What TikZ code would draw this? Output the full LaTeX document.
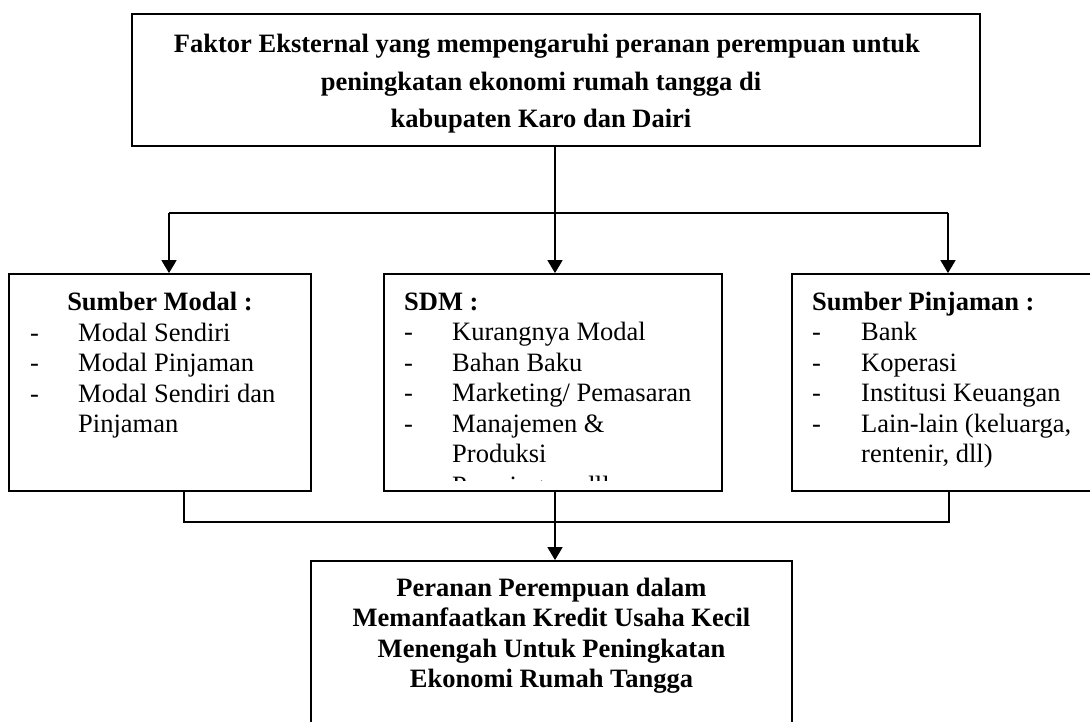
\documentclass[tikz,border=0pt]{standalone}
\usepackage{fontspec}
\setmainfont{Liberation Serif}
\usetikzlibrary{arrows.meta}
\begin{document}
\begin{tikzpicture}[x=1pt,y=-1pt,
  frame/.style={draw=black, line width=1.8pt, rectangle, inner sep=0pt},
  conn/.style={draw=black, line width=1.7pt},
  arr/.style={conn, -{Triangle[length=13pt,width=15pt]}},
  txt/.style={font=\fontsize{26.5}{30.5}\selectfont, anchor=base west, inner sep=0pt},
  btxt/.style={font=\fontsize{26.5}{30.5}\selectfont\bfseries, anchor=base west, inner sep=0pt},
  ctxt/.style={font=\fontsize{26.5}{30.5}\selectfont\bfseries, anchor=base, inner sep=0pt}
]
\useasboundingbox (0,0) rectangle (1090,722);
\clip (0,0) rectangle (1090,722);

% boxes
\node[frame, minimum width=848pt, minimum height=132pt] (top) at (556,80) {};
\node[frame, minimum width=302pt, minimum height=217pt] (left) at (160,382.5) {};
\node[frame, minimum width=338pt, minimum height=217pt] (mid) at (553,382.5) {};
\node[frame, minimum width=308pt, minimum height=217pt] (right) at (946,382.5) {};
\node[frame, minimum width=481pt, minimum height=175pt] (bot) at (551.5,648.5) {};

% top text
\node[ctxt] (t1) at (547,53) {Faktor Eksternal yang mempengaruhi peranan perempuan untuk};
\node[ctxt] (t2) at (541,90.5) {peningkatan ekonomi rumah tangga di};
\node[ctxt] (t3) at (541,128) {kabupaten Karo dan Dairi};

% left box text
\node[ctxt] (lh) at (160,310) {Sumber Modal :};
\node[txt] (ld1) at (30,341) {-};
\node[txt] (li1) at (78,341) {Modal Sendiri};
\node[txt] (ld2) at (30,371.5) {-};
\node[txt] (li2) at (78,371.5) {Modal Pinjaman};
\node[txt] (ld3) at (30,402) {-};
\node[txt] (li3) at (78,402) {Modal Sendiri dan};
\node[txt] (li4) at (78,432.5) {Pinjaman};

% middle box text
\begin{scope}
\clip (384,274) rectangle (722,480);
\node[btxt] (mh) at (404,310) {SDM :};
\node[txt] (md1) at (404,340.5) {-};
\node[txt] (mi1) at (452,340.5) {Kurangnya Modal};
\node[txt] (md2) at (404,371) {-};
\node[txt] (mi2) at (452,371) {Bahan Baku};
\node[txt] (md3) at (404,401.5) {-};
\node[txt] (mi3) at (452,401.5) {Marketing/ Pemasaran};
\node[txt] (md4) at (404,432) {-};
\node[txt] (mi4) at (452,432) {Manajemen \&};
\node[txt] (mi5) at (452,462.5) {Produksi};
\node[txt] (md6) at (404,494) {-};
\node[txt] (mi6) at (452,494) {Persaingan, dll};
\end{scope}

% right box text
\node[btxt] (rh) at (812,310) {Sumber Pinjaman :};
\node[txt] (rd1) at (812,340.5) {-};
\node[txt] (ri1) at (861,340.5) {Bank};
\node[txt] (rd2) at (812,371) {-};
\node[txt] (ri2) at (861,371) {Koperasi};
\node[txt] (rd3) at (812,401.5) {-};
\node[txt] (ri3) at (861,401.5) {Institusi Keuangan};
\node[txt] (rd4) at (812,432) {-};
\node[txt] (ri4) at (861,432) {Lain-lain (keluarga,};
\node[txt] (ri5) at (861,462.5) {rentenir, dll)};

% bottom box text
\node[ctxt] (b1) at (551.5,596) {Peranan Perempuan dalam};
\node[ctxt] (b2) at (551.5,626.5) {Memanfaatkan Kredit Usaha Kecil};
\node[ctxt] (b3) at (551.5,657) {Menengah Untuk Peningkatan};
\node[ctxt] (b4) at (551.5,687.5) {Ekonomi Rumah Tangga};

% upper connectors
\coordinate (jl) at (169,213);
\coordinate (jm) at (555,213);
\coordinate (jr) at (948,213);
\draw[conn] (jm |- top.south) -- (jm);
\draw[conn] (jl) -- (jr);
\draw[arr] (jl) -- (jl |- left.north);
\draw[arr] (jm) -- (jm |- mid.north);
\draw[arr] (jr) -- (jr |- right.north);

% lower connectors
\coordinate (kl) at (184,522);
\coordinate (km) at (555,522);
\coordinate (kr) at (949,522);
\draw[conn] (kl |- left.south) -- (kl) -- (kr) -- (kr |- right.south);
\draw[arr] (km |- mid.south) -- (km |- bot.north);
\end{tikzpicture}
\end{document}
